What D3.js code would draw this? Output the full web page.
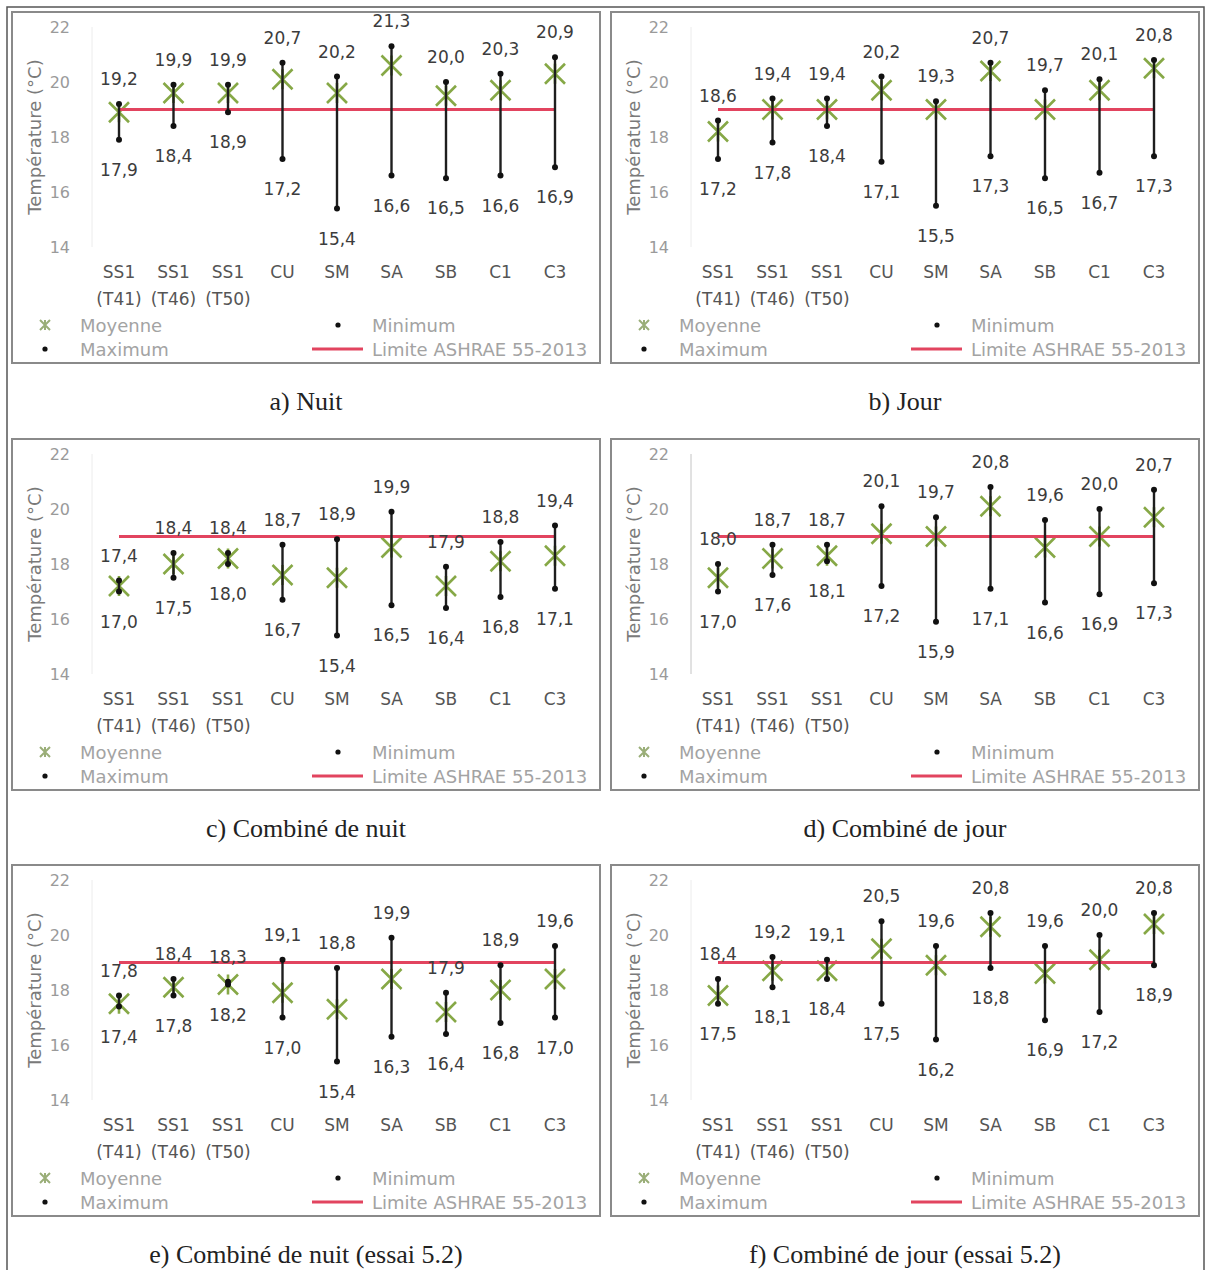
<!DOCTYPE html>
<html>
<head>
<meta charset="utf-8">
<script src="https://cdn.jsdelivr.net/npm/d3@7"></script>
<style>
  html, body { margin: 0; padding: 0; background: #fff; }
  svg { display: block; }
</style>
</head>
<body>
<svg id="chart" width="1207" height="1270"></svg>
<script>
// ---------- data ----------
const catLine1 = ["SS1", "SS1", "SS1", "CU", "SM", "SA", "SB", "C1", "C3"];
const catLine2 = ["(T41)", "(T46)", "(T50)", "", "", "", "", "", ""];
const yTicks = [14, 16, 18, 20, 22];
const limitValue = 19;

const titles = [
  "a) Nuit", "b) Jour",
  "c) Combiné de nuit", "d) Combiné de jour",
  "e) Combiné de nuit (essai 5.2)", "f) Combiné de jour (essai 5.2)"
];

const maxA  = [19.2, 19.9, 19.9, 20.7, 20.2, 21.3, 20.0, 20.3, 20.9];
const minA  = [17.9, 18.4, 18.9, 17.2, 15.4, 16.6, 16.5, 16.6, 16.9];
const meanA = [18.9, 19.6, 19.6, 20.1, 19.6, 20.6, 19.5, 19.7, 20.3];

const maxB  = [18.6, 19.4, 19.4, 20.2, 19.3, 20.7, 19.7, 20.1, 20.8];
const minB  = [17.2, 17.8, 18.4, 17.1, 15.5, 17.3, 16.5, 16.7, 17.3];
const meanB = [18.2, 19.0, 19.0, 19.7, 19.0, 20.4, 19.0, 19.7, 20.5];

const maxC  = [17.4, 18.4, 18.4, 18.7, 18.9, 19.9, 17.9, 18.8, 19.4];
const minC  = [17.0, 17.5, 18.0, 16.7, 15.4, 16.5, 16.4, 16.8, 17.1];
const meanC = [17.2, 18.0, 18.2, 17.6, 17.5, 18.6, 17.2, 18.1, 18.3];

const maxD  = [18.0, 18.7, 18.7, 20.1, 19.7, 20.8, 19.6, 20.0, 20.7];
const minD  = [17.0, 17.6, 18.1, 17.2, 15.9, 17.1, 16.6, 16.9, 17.3];
const meanD = [17.5, 18.2, 18.3, 19.1, 19.0, 20.1, 18.6, 19.0, 19.7];

const maxE  = [17.8, 18.4, 18.3, 19.1, 18.8, 19.9, 17.9, 18.9, 19.6];
const minE  = [17.4, 17.8, 18.2, 17.0, 15.4, 16.3, 16.4, 16.8, 17.0];
const meanE = [17.5, 18.1, 18.2, 17.9, 17.3, 18.4, 17.2, 18.0, 18.4];

const maxF  = [18.4, 19.2, 19.1, 20.5, 19.6, 20.8, 19.6, 20.0, 20.8];
const minF  = [17.5, 18.1, 18.4, 17.5, 16.2, 18.8, 16.9, 17.2, 18.9];
const meanF = [17.8, 18.7, 18.7, 19.5, 18.9, 20.3, 18.6, 19.1, 20.4];

const legendMean = "Moyenne";
const legendMax = "Maximum";
const legendMin = "Minimum";
const legendLimit = "Limite ASHRAE 55-2013";
const yTitle = "Température (°C)";

const panels = [
  { max: maxA, min: minA, mean: meanA },
  { max: maxB, min: minB, mean: meanB },
  { max: maxC, min: minC, mean: meanC },
  { max: maxD, min: minD, mean: meanD },
  { max: maxE, min: minE, mean: meanE },
  { max: maxF, min: minF, mean: meanF }
];

// ---------- layout ----------
const svg = d3.select("#chart");
const FONT = "'DejaVu Sans', sans-serif";
const panelX = [12, 611];
const panelY = [12, 439, 865];
const PW = 588, PH = 351;
const fmt = v => v.toFixed(1).replace(".", ",");

// outer figure frame (open at the bottom, like the cropped reference)
svg.append("path")
  .attr("d", "M7,1270L7,7L1204,7L1204,1270")
  .attr("fill", "none").attr("stroke", "#555").attr("stroke-width", 1.5);

function starPath(s) {
  return `M${-s},${-s}L${s},${s}M${-s},${s}L${s},${-s}M0,${-s}L0,${s}`;
}

panels.forEach((p, i) => {
  const left = panelX[i % 2];
  const top = panelY[Math.floor(i / 2)];
  const clipId = "clip" + i;
  svg.append("clipPath").attr("id", clipId)
    .append("rect").attr("x", left).attr("y", top).attr("width", PW).attr("height", PH);

  const g = svg.append("g");
  const inner = g.append("g").attr("clip-path", `url(#${clipId})`);

  const x = d3.scaleBand().domain(d3.range(catLine1.length))
    .range([left + 79.75, left + 79.75 + 490.5]);
  const y = d3.scaleLinear().domain([14, 22]).range([top + 235, top + 15]);
  const cx = k => x(k) + x.bandwidth() / 2;

  // faint vertical axis line
  inner.append("line")
    .attr("x1", left + 80).attr("x2", left + 80)
    .attr("y1", y(22)).attr("y2", y(14))
    .attr("stroke", i === 3 ? "#c4c4c4" : "#ececec").attr("stroke-width", 1);

  // y ticks via d3 axis
  const yAxis = d3.axisLeft(y).tickValues(yTicks).tickSize(0).tickPadding(0)
    .tickFormat(d3.format("d"));
  const ya = inner.append("g").attr("transform", `translate(${left + 58},0)`).call(yAxis);
  ya.select(".domain").remove();
  ya.selectAll("text").attr("font-family", FONT).attr("font-size", 16)
    .attr("fill", "#9a9a9a");

  // y title
  inner.append("text")
    .attr("transform", `translate(${left + 22},${top + 125}) rotate(-90)`)
    .attr("text-anchor", "middle").attr("dominant-baseline", "central")
    .attr("font-family", FONT).attr("font-size", 18).attr("fill", "#7a7a7a")
    .text(yTitle);

  // category labels
  const cat = inner.append("g");
  cat.selectAll("text.l1").data(catLine1).join("text")
    .attr("x", (d, k) => cx(k)).attr("y", top + 260)
    .attr("text-anchor", "middle").attr("dominant-baseline", "central")
    .attr("font-family", FONT).attr("font-size", 17).attr("fill", "#555")
    .text(d => d);
  cat.selectAll("text.l2").data(catLine2).join("text")
    .attr("x", (d, k) => cx(k)).attr("y", top + 287)
    .attr("text-anchor", "middle").attr("dominant-baseline", "central")
    .attr("font-family", FONT).attr("font-size", 17).attr("fill", "#555")
    .text(d => d);

  // mean star markers
  inner.selectAll("path.mean").data(p.mean).join("path")
    .attr("transform", (d, k) => `translate(${cx(k)},${y(d)})`)
    .attr("d", starPath(10))
    .attr("fill", "none").attr("stroke", "#86a846").attr("stroke-width", 2.6);

  // limit line
  inner.append("line")
    .attr("x1", cx(0)).attr("x2", cx(catLine1.length - 1))
    .attr("y1", y(limitValue)).attr("y2", y(limitValue))
    .attr("stroke", "#e2445f").attr("stroke-width", 3);

  // high-low lines
  inner.selectAll("line.hl").data(p.max).join("line")
    .attr("x1", (d, k) => cx(k)).attr("x2", (d, k) => cx(k))
    .attr("y1", d => y(d)).attr("y2", (d, k) => y(p.min[k]))
    .attr("stroke", "#1e1e1e").attr("stroke-width", 2.4);

  // max / min dots
  inner.selectAll("circle.mx").data(p.max).join("circle")
    .attr("cx", (d, k) => cx(k)).attr("cy", d => y(d)).attr("r", 3)
    .attr("fill", "#111");
  inner.selectAll("circle.mn").data(p.min).join("circle")
    .attr("cx", (d, k) => cx(k)).attr("cy", d => y(d)).attr("r", 3)
    .attr("fill", "#111");

  // data labels
  inner.selectAll("text.lmx").data(p.max).join("text")
    .attr("x", (d, k) => cx(k)).attr("y", d => y(d) - 25)
    .attr("text-anchor", "middle").attr("dominant-baseline", "central")
    .attr("font-family", FONT).attr("font-size", 17).attr("fill", "#3c3c3c")
    .text(d => fmt(d));
  inner.selectAll("text.lmn").data(p.min).join("text")
    .attr("x", (d, k) => cx(k)).attr("y", d => y(d) + 30)
    .attr("text-anchor", "middle").attr("dominant-baseline", "central")
    .attr("font-family", FONT).attr("font-size", 17).attr("fill", "#3c3c3c")
    .text(d => fmt(d));

  // legend
  const lg = inner.append("g");
  const r1 = top + 313, r2 = top + 337;
  lg.append("path").attr("transform", `translate(${left + 33},${r1})`)
    .attr("d", `M-5,-5L5,5M-5,5L5,-5M0,-5L0,5`).attr("stroke", "#9aae78").attr("stroke-width", 2);
  lg.append("circle").attr("cx", left + 33).attr("cy", r2).attr("r", 2.6).attr("fill", "#111");
  lg.append("circle").attr("cx", left + 326).attr("cy", r1).attr("r", 2.6).attr("fill", "#111");
  lg.append("line").attr("x1", left + 300).attr("x2", left + 351)
    .attr("y1", r2).attr("y2", r2).attr("stroke", "#e2445f").attr("stroke-width", 3);
  const lt = [[legendMean, 68, r1], [legendMax, 68, r2], [legendMin, 360, r1], [legendLimit, 360, r2]];
  lg.selectAll("text").data(lt).join("text")
    .attr("x", d => left + d[1]).attr("y", d => d[2])
    .attr("dominant-baseline", "central")
    .attr("font-family", FONT).attr("font-size", 18).attr("fill", "#a3a3a3")
    .text(d => d[0]);

  // panel frame
  g.append("rect").attr("x", left).attr("y", top).attr("width", PW).attr("height", PH)
    .attr("fill", "none").attr("stroke", "#8a8a8a").attr("stroke-width", 2);

  // caption
  g.append("text")
    .attr("x", left + PW / 2).attr("y", top + PH + 38)
    .attr("text-anchor", "middle").attr("dominant-baseline", "central")
    .attr("font-family", "'Liberation Serif', 'Times New Roman', serif")
    .attr("font-size", 26).attr("fill", "#222")
    .text(titles[i]);
});
</script>
</body>
</html>
